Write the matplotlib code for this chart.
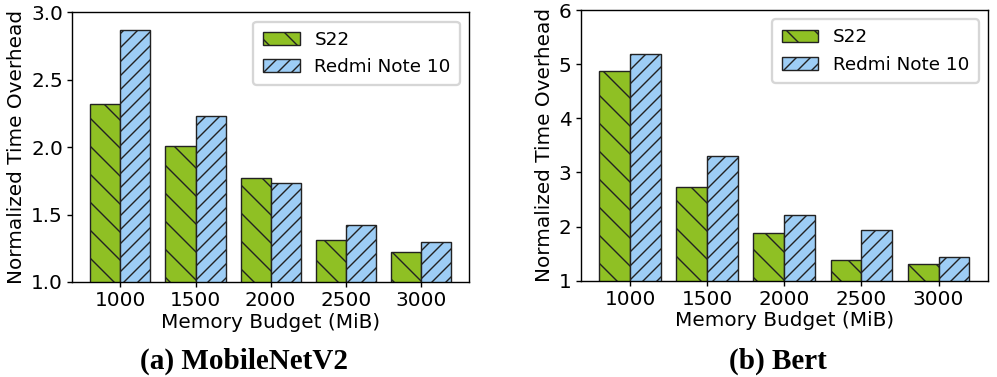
import numpy as np
import matplotlib
matplotlib.use("Agg")
import matplotlib.pyplot as plt

# ─────────────────────────────────────────────
#  DATA
# ─────────────────────────────────────────────
budgets      = ["1000", "1500", "2000", "2500", "3000"]
devices      = ["S22", "Redmi Note 10"]

mobilenet_s22   = [2.32, 2.01, 1.77, 1.31, 1.22]
mobilenet_redmi = [2.87, 2.23, 1.735, 1.42, 1.30]

bert_s22   = [4.88, 2.74, 1.88, 1.39, 1.30]
bert_redmi = [5.19, 3.31, 2.21, 1.93, 1.44]

DPI         = 168
FONT_SIZE   = 8.6
LEGEND_SIZE = 7.9
TITLE_SIZE  = 12.5
COLORS      = ["#8fc024", "#9dcdf5"]
HATCHES     = ["\\\\", "////"]

plt.rcParams["hatch.linewidth"] = 0.6
plt.rcParams["font.size"] = FONT_SIZE


def draw_panel(ax, s22, redmi, ylim, yticks, yfmt):
    x = np.arange(len(budgets))
    w = 0.4
    for i, (vals, dev) in enumerate([(s22, devices[0]), (redmi, devices[1])]):
        ax.bar(x - w / 2 + i * w, vals, width=w, color=COLORS[i],
               edgecolor="#222222", linewidth=0.6, hatch=HATCHES[i], label=dev)
    ax.set_xticks(x)
    ax.set_xticklabels(budgets)
    ax.set_ylim(*ylim)
    ax.set_yticks(yticks)
    ax.set_yticklabels([yfmt.format(t) for t in yticks])
    ax.set_xlabel("Memory Budget (MiB)", labelpad=1)
    ax.set_ylabel("Normalized Time Overhead", labelpad=2)
    ax.tick_params(labelsize=FONT_SIZE, length=2, width=0.6, pad=2)
    for s in ax.spines.values():
        s.set_linewidth(0.6)
    ax.legend(loc="upper right", fontsize=LEGEND_SIZE, handlelength=2.0,
              borderpad=0.5, labelspacing=0.5)


fig = plt.figure(figsize=(997 / DPI, 377 / DPI), dpi=DPI)
ax1 = fig.add_axes([0.0725, 0.252, 0.398, 0.7154])
ax2 = fig.add_axes([0.5824, 0.2554, 0.4085, 0.718])

draw_panel(ax1, mobilenet_s22, mobilenet_redmi, (1.0, 3.0),
           [1.0, 1.5, 2.0, 2.5, 3.0], "{:.1f}")
draw_panel(ax2, bert_s22, bert_redmi, (1, 6), [1, 2, 3, 4, 5, 6], "{:d}")

fig.text(0.2443, 0.042, "(a) MobileNetV2", ha="center", va="center",
         family="Liberation Serif", weight="bold", fontsize=TITLE_SIZE)
fig.text(0.780, 0.042, "(b) Bert", ha="center", va="center",
         family="Liberation Serif", weight="bold", fontsize=TITLE_SIZE)

fig.savefig("out.png", dpi=DPI)
